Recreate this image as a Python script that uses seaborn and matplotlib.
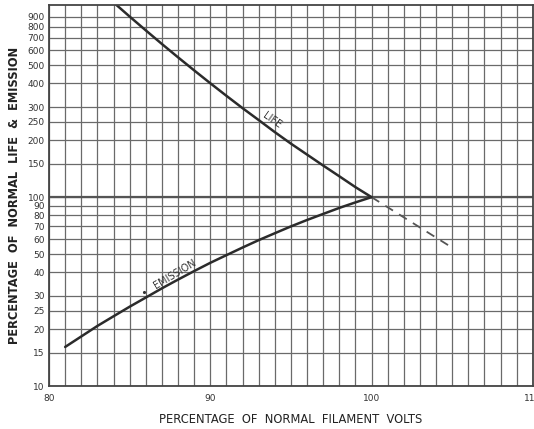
import numpy as np
import pandas as pd
import matplotlib
matplotlib.use("Agg")
import matplotlib.pyplot as plt
import seaborn as sns

# --- data ---
life_volts = [84, 85, 86, 87, 88, 89, 90, 91, 92, 93, 94, 95, 96, 97, 98, 99, 100]
life_pct = [1074, 904, 764, 647, 550, 469, 401, 344, 296, 256, 221, 192, 168,
            147, 129, 113, 100]
life_ext_volts = [100.0, 105.0]
life_ext_pct = [100, 54]
emis_volts = [81, 82, 83, 84, 85, 86, 87, 88, 89, 90, 91, 92, 93, 94, 95, 96,
              97, 98, 99, 100]
emis_pct = [16.1, 18.3, 20.8, 23.4, 26.3, 29.4, 32.9, 36.6, 40.6, 44.9, 49.3,
            54.1, 59.2, 64.4, 70.0, 75.7, 81.5, 87.7, 93.8, 100]

y_ticks = [10, 15, 20, 25, 30, 40, 50, 60, 70, 80, 90, 100, 150, 200, 250,
           300, 400, 500, 600, 700, 800, 900]
x_ticks = [80, 90, 100, 110]

sns.set_style("white")
plt.rcParams['font.family'] = ['DejaVu Sans']

fig = plt.figure(figsize=(5.34, 4.29), dpi=100)
ax = fig.add_axes([0.0918, 0.1002, 0.906, 0.888])

life = pd.DataFrame({"volts": life_volts, "pct": life_pct})
life_ext = pd.DataFrame({"volts": life_ext_volts, "pct": life_ext_pct})
emis = pd.DataFrame({"volts": emis_volts, "pct": emis_pct})

ink = "#2b2b2b"
sns.lineplot(data=life, x="volts", y="pct", ax=ax, color=ink, lw=1.8)
sns.lineplot(data=life_ext, x="volts", y="pct", ax=ax, color="#555555",
             lw=1.3, linestyle=(0, (5, 4)))
sns.lineplot(data=emis, x="volts", y="pct", ax=ax, color=ink, lw=1.8)

ax.set_yscale("log")
ax.set_xlim(80, 110)
ax.set_ylim(10, 1040)

ax.set_xticks(x_ticks)
ax.set_xticklabels([str(v) for v in x_ticks])
ax.set_xticks(np.arange(80, 111, 1), minor=True)
ax.set_yticks(y_ticks)
ax.set_yticklabels([str(v) for v in y_ticks])
ax.yaxis.set_minor_locator(matplotlib.ticker.NullLocator())

ax.grid(True, which="both", axis="x", color="#6a6a6a", lw=0.9)
ax.grid(True, which="major", axis="y", color="#6a6a6a", lw=0.9)
ax.axhline(100, color="#555555", lw=1.6, zorder=1)
ax.set_axisbelow(True)

for s in ax.spines.values():
    s.set_color("#444444")
    s.set_linewidth(1.3)

ax.tick_params(axis="y", which="major", length=2, pad=1, labelsize=6.5,
               colors="#333333")
ax.tick_params(axis="x", which="major", length=0, pad=6, labelsize=6.5,
               colors="#333333")
ax.tick_params(axis="x", which="minor", length=0)

ax.set_xlabel("PERCENTAGE  OF  NORMAL  FILAMENT  VOLTS", fontsize=8.3,
              color="#222222", labelpad=7)
ax.set_ylabel("PERCENTAGE  OF  NORMAL  LIFE  &  EMISSION", fontsize=8.3,
              color="#222222", labelpad=5, fontweight="bold")

ax.text(93.8, 255, "LIFE", rotation=-35, fontsize=7, color="#333333",
        ha="center", va="center")
ax.text(87.8, 39, "EMISSION", rotation=31, fontsize=7, color="#333333",
        ha="center", va="center")
ax.plot([85.9], [31.5], marker=".", color="#333333", ms=2.5)

fig.savefig("out.png", dpi=100)
